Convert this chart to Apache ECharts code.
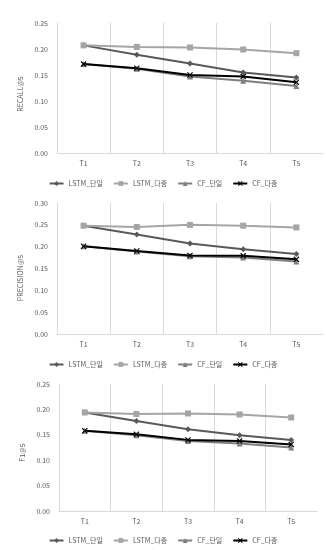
<!DOCTYPE html>
<html><head><meta charset="utf-8">
<script src="https://cdn.jsdelivr.net/npm/echarts@6/dist/echarts.min.js"></script>
<style>html,body{margin:0;padding:0;background:#fff}#c{width:326px;height:550px}</style>
</head><body><div id="c"></div>
<script>
const categories = ['T1','T2','T3','T4','T5'];
const seriesNames = ['LSTM_단일','LSTM_다중','CF_단일','CF_다중'];
const yTitles = ['RECALL@5','PRECISION@5','F1@5'];
const yMax = [0.25, 0.30, 0.25];
const recall_lstm_single = [0.207, 0.189, 0.172, 0.155, 0.145];
const recall_lstm_multi  = [0.207, 0.204, 0.203, 0.199, 0.192];
const recall_cf_single   = [0.171, 0.162, 0.147, 0.139, 0.129];
const recall_cf_multi    = [0.171, 0.163, 0.150, 0.147, 0.136];
const prec_lstm_single = [0.248, 0.228, 0.207, 0.194, 0.183];
const prec_lstm_multi  = [0.248, 0.245, 0.250, 0.248, 0.244];
const prec_cf_single   = [0.201, 0.189, 0.178, 0.175, 0.166];
const prec_cf_multi    = [0.201, 0.190, 0.180, 0.179, 0.171];
const f1_lstm_single = [0.194, 0.177, 0.161, 0.149, 0.140];
const f1_lstm_multi  = [0.194, 0.191, 0.192, 0.190, 0.184];
const f1_cf_single   = [0.158, 0.149, 0.138, 0.133, 0.125];
const f1_cf_multi    = [0.158, 0.151, 0.140, 0.138, 0.131];

const data = [
  [recall_lstm_single, recall_lstm_multi, recall_cf_single, recall_cf_multi],
  [prec_lstm_single, prec_lstm_multi, prec_cf_single, prec_cf_multi],
  [f1_lstm_single, f1_lstm_multi, f1_cf_single, f1_cf_multi]
];

const FONT = '"Noto Sans CJK KR", "Noto Sans", sans-serif';
const TXT = '#595959';
const colors = ['#595959','#A5A5A5','#7F7F7F','#000000'];
const XPATH = 'path://M0,1.4L1.4,0L5,3.6L8.6,0L10,1.4L6.4,5L10,8.6L8.6,10L5,6.4L1.4,10L0,8.6L3.6,5Z';
const symbols = ['diamond','rect',"triangle",XPATH];
const symSizes = [6,6,6,6];

const layout = [
  {left:57, width:266, top:23, height:130, legendTop:175, nameGap:30, pad:12},
  {left:57, width:266, top:203, height:131, legendTop:356, nameGap:30, pad:19},
  {left:59, width:258, top:384, height:127, legendTop:532, nameGap:25, pad:10}
];

const grids=[], xAxes=[], yAxes=[], series=[], legends=[];
layout.forEach((L,i)=>{
  grids.push({left:L.left, width:L.width, top:L.top, height:L.height, containLabel:false});
  xAxes.push({type:'category', gridIndex:i, data:categories, boundaryGap:true,
    axisLine:{show:true, lineStyle:{color:'#D9D9D9', width:1}},
    axisTick:{show:false},
    axisLabel:{color:TXT, fontSize:7, fontFamily:FONT, margin:7},
    splitLine:{show:true, showMaxLine:false, lineStyle:{color:'#D9D9D9', width:1}}});
  yAxes.push({type:'value', gridIndex:i, min:0, max:yMax[i], interval:0.05,
    name:yTitles[i], nameLocation:'middle', nameGap:L.nameGap, nameRotate:90,
    nameTextStyle:{color:TXT, fontSize:7, fontFamily:FONT, padding:[0,L.pad,0,0]},
    axisLine:{show:true, lineStyle:{color:'#D9D9D9', width:1}}, axisTick:{show:false}, splitLine:{show:false},
    axisLabel:{color:TXT, fontSize:7, fontFamily:FONT, margin:9, formatter:v=>v.toFixed(2)}});
  legends.push({top:L.legendTop, left:'center', itemWidth:14, itemHeight:6, itemGap:10,
    textStyle:{color:TXT, fontSize:7, fontFamily:FONT}, data:seriesNames, selectedMode:false});
  seriesNames.forEach((n,k)=>{
    series.push({name:n, type:'line', xAxisIndex:i, yAxisIndex:i, data:data[i][k],
      symbol:symbols[k], symbolSize:symSizes[k], showSymbol:true,
      lineStyle:{color:colors[k], width:2}, itemStyle:{color:colors[k]}, color:colors[k],
      animation:false});
  });
});

const chart = echarts.init(document.getElementById('c'), null, {renderer:'canvas'});
chart.setOption({backgroundColor:'#fff', animation:false, grid:grids, xAxis:xAxes, yAxis:yAxes, legend:legends, series:series});
</script></body></html>
